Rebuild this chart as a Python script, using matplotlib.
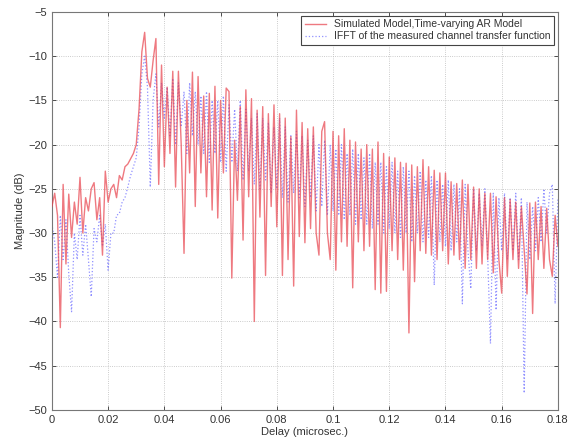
import numpy as np
import matplotlib
matplotlib.use('Agg')
import matplotlib.pyplot as plt

plt.rcParams['font.family'] = ['Liberation Sans', 'DejaVu Sans']

# delay grid, one sample per 0.001 microsec.
delay = np.round(np.arange(181) * 0.001, 3)

# simulated model (red), dB
sim_db = [
    -27, -25.5, -28, -40.7, -24.5, -33.5, -25.6, -30.5, -26.5, -29,
    -23.7, -30, -26, -27.5, -25, -24.3, -28.5, -26, -32.5, -23,
    -26.5, -25, -24.5, -26, -23.5, -24, -22.5, -22.2, -21.6, -21,
    -20, -16, -9.5, -7.3, -12.5, -13.5, -10.5, -8, -24.5, -11,
    -22.5, -13.5, -21, -11.7, -24.8, -11.7, -20, -32.3, -15, -23.2,
    -11.8, -27, -12.3, -23.2, -14.5, -25.9, -14.2, -27.4, -13.4, -28.3,
    -15, -23.2, -13.6, -14, -35.1, -19.5, -26.3, -15.7, -30.8, -13.8,
    -25.9, -14.8, -40, -16.1, -28.2, -15.7, -34.8, -16.5, -27, -15.5,
    -29.3, -16.5, -34.8, -17, -33, -19.1, -36, -16.1, -30.4, -17.5,
    -31.1, -18.2, -29.5, -18, -30, -32.5, -18.5, -17.4, -30, -33,
    -18.5, -34.2, -19, -31, -18.2, -31.5, -19.5, -36.2, -19.7, -31,
    -20.5, -32, -20, -31.5, -20.5, -36.4, -19.7, -36.8, -21, -36.6,
    -21.4, -32, -21.5, -33, -22, -34.2, -22.1, -41.3, -22.3, -35.5,
    -22.5, -32, -21.7, -32.3, -22.5, -32.5, -22.9, -33, -23.2, -32,
    -23.2, -33.5, -24.2, -32.5, -24.4, -33, -24, -34, -24.5, -33,
    -24.8, -34, -25, -33.5, -25.5, -33, -25.5, -34.5, -25.9, -33,
    -36.8, -26, -34.9, -26.2, -33, -26.5, -34, -27, -32, -36.9,
    -26.6, -39.1, -26.5, -33, -27, -34, -27.2, -33, -34.9, -28,
    -31.5,
]

# measured channel, IFFT (blue), dB
meas_db = [
    -29, -31, -35, -28, -33, -28.5, -34.6, -38.9, -30, -33,
    -28, -32.5, -29, -33, -37.2, -29.5, -31, -28, -31.5, -29,
    -34.2, -30, -30, -28, -27.8, -26.5, -26, -24.8, -23.5, -22.5,
    -21.5, -18, -12, -10, -13.5, -24.8, -15, -12, -18, -13,
    -17, -13.5, -19, -12.5, -20, -13, -18, -14, -21, -13,
    -19, -14, -20, -14.5, -21, -14, -22, -15, -21, -15,
    -22, -14.5, -23, -15.5, -22, -16, -23, -15, -24, -16,
    -23, -17, -24.5, -16.5, -25, -17, -24, -17.5, -25.5, -18,
    -25, -17, -26, -18, -26.5, -19, -25.5, -18.5, -26, -19,
    -27, -19.5, -26, -19, -27.5, -20, -27, -19.5, -28, -20,
    -27.5, -20.5, -28, -20, -28.5, -21, -28, -20.5, -29, -21,
    -28.5, -21.5, -29, -21, -29.5, -22, -29, -22, -30, -22.5,
    -29.5, -22, -30, -23, -30.5, -22.5, -30, -23, -31, -23.5,
    -30, -23, -31, -24, -30.5, -23.5, -35.9, -24, -31, -24.5,
    -31.5, -24, -32, -24.5, -31, -25, -38, -24.5, -32, -36.3,
    -25, -32, -25.5, -31.5, -25, -32.5, -42.5, -25.5, -38.7, -26,
    -32, -25.5, -33, -26, -32, -25.5, -33, -26, -48.1, -26.5,
    -33, -27, -32, -26, -31, -25, -30, -25.5, -24.5, -38,
    -26,
]

xticks = [0, 0.02, 0.04, 0.06, 0.08, 0.1, 0.12, 0.14, 0.16, 0.18]
xtick_labels = ['0', '0.02', '0.04', '0.06', '0.08', '0.1', '0.12', '0.14', '0.16', '0.18']
yticks = [-50, -45, -40, -35, -30, -25, -20, -15, -10, -5]

fig = plt.figure(figsize=(5.83, 4.45), dpi=100)
ax = fig.add_axes([0.089, 0.079, 0.868, 0.894])

ax.plot(delay, meas_db, color='#6b6bff', lw=0.9, ls=':', alpha=0.75,
        label='IFFT of the measured channel transfer function', zorder=2)
ax.plot(delay, sim_db, color='#e8404a', lw=1.0, alpha=0.7,
        label='Simulated Model,Time-varying AR Model', zorder=3)

ax.set_xlim(0, 0.18)
ax.set_ylim(-50, -5)
ax.set_xticks(xticks)
ax.set_xticklabels(xtick_labels)
ax.set_yticks(yticks)
ax.tick_params(direction='in', top=True, right=True, labelsize=8,
               colors='#333333', length=3, width=0.6)
for s in ax.spines.values():
    s.set_color('#777777')
    s.set_linewidth(0.8)
ax.grid(True, ls=':', color='#bbbbbb', lw=0.6)

ax.set_xlabel('Delay (microsec.)', fontsize=8, color='#333333', labelpad=2)
ax.set_ylabel('Magnitude (dB)', fontsize=8, color='#333333', labelpad=2)

# red first in the legend
h, l = ax.get_legend_handles_labels()
leg = ax.legend(h[::-1], l[::-1], loc='upper right', fontsize=7.5, fancybox=False,
                edgecolor='#444444', framealpha=1, borderaxespad=0.35,
                handlelength=2.0, borderpad=0.35, labelspacing=0.2)
leg.get_frame().set_linewidth(0.8)
for t in leg.get_texts():
    t.set_color('#333333')

fig.savefig('out.png', dpi=100, facecolor='white')
